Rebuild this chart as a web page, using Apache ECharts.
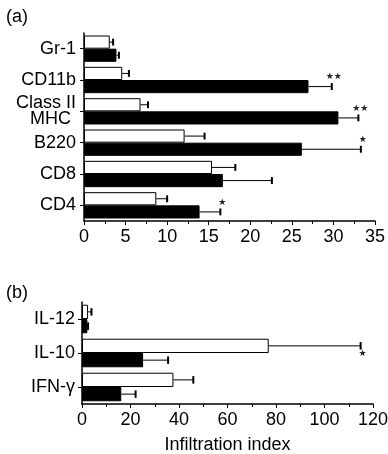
<!DOCTYPE html>
<html><head><meta charset="utf-8">
<script src="https://cdn.jsdelivr.net/npm/echarts@6/dist/echarts.min.js"></script>
<style>html,body{margin:0;padding:0;background:#fff}#c{width:388px;height:454px}</style>
</head><body><div id="c"></div>
<script>
// Panel (a)
const catsA = ['Gr-1', 'CD11b', 'Class II\nMHC\u00a0', 'B220', 'CD8', 'CD4'];
const controlA = [3.1, 4.6, 6.8, 12.1, 15.4, 8.7];
const controlSdA = [0.4, 0.8, 0.9, 2.4, 2.8, 1.3];
const treatedA = [3.9, 27.0, 30.6, 26.2, 16.7, 13.9];
const treatedSdA = [0.3, 2.8, 2.4, 7.1, 5.9, 2.5];
const starsControlA = ['', '', '', '', '', ''];
const starsTreatedA = ['', '★★', '★★', '★', '', '★'];
const xTicksA = { min: 0, max: 35, interval: 5 };

// Panel (b)
const catsB = ['IL-12', 'IL-10', 'IFN-γ'];
const controlB = [2.5, 77.0, 37.7];
const controlSdB = [1.4, 37.9, 8.2];
const treatedB = [2.2, 25.2, 16.2];
const treatedSdB = [0.3, 10.3, 5.9];
const starsControlB = ['', '★', ''];
const starsTreatedB = ['', '', ''];
const xTicksB = { min: 0, max: 120, interval: 20 };

const FONT = 'Liberation Sans';
const BAR_FRAC = 0.42;

function makeErr(vals, sds, stars, gi, side, starBelow) {
  return {
    type: 'custom', xAxisIndex: gi, yAxisIndex: gi, z: 5, silent: true,
    data: vals.map((v, i) => [v, i, sds[i]]),
    renderItem(params, api) {
      const i = params.dataIndex;
      const v = api.value(0), sd = api.value(2);
      const c = api.coord([v, i]);
      const e = api.coord([v + sd, i]);
      const band = api.size([0, 1])[1];
      const y = c[1] + side * band * BAR_FRAC / 2;
      const cap = band * 0.11;
      const ch = [
        { type: 'line', shape: { x1: c[0], y1: y, x2: e[0], y2: y }, style: { stroke: '#000', lineWidth: 1 } },
        { type: 'line', shape: { x1: e[0], y1: y - cap, x2: e[0], y2: y + cap }, style: { stroke: '#000', lineWidth: 2 } }
      ];
      if (stars[i]) {
        ch.push({ type: 'text', x: e[0] + 2, y: y + (starBelow ? 8 : -9.5),
          style: { text: stars[i], fill: '#222', font: '9px "DejaVu Sans"', align: 'center', verticalAlign: 'middle' } });
      }
      return { type: 'group', children: ch };
    }
  };
}

function xAxisCfg(gi, t, extra) {
  return Object.assign({
    gridIndex: gi, type: 'value', min: t.min, max: t.max, interval: t.interval,
    axisLine: { show: true, lineStyle: { color: '#000', width: 1.5 } },
    axisTick: { show: true, length: 4, lineStyle: { color: '#000', width: 1 } },
    minorTick: { show: true, splitNumber: 2, length: 3, lineStyle: { color: '#000', width: 1 } },
    splitLine: { show: false },
    axisLabel: { fontSize: 18, color: '#000', fontFamily: FONT, margin: 7 }
  }, extra || {});
}
function yAxisCfg(gi, cats, margin) {
  return {
    gridIndex: gi, type: 'category', inverse: true, data: cats,
    axisLine: { show: true, lineStyle: { color: '#000', width: 1.5 } },
    axisTick: { show: true, alignWithLabel: true, length: 4, lineStyle: { color: '#000' } },
    axisLabel: { fontSize: 18, color: '#000', fontFamily: FONT, margin: margin, lineHeight: 16 }
  };
}
function bars(vals, gi, white) {
  return {
    type: 'bar', xAxisIndex: gi, yAxisIndex: gi, data: vals,
    barWidth: (BAR_FRAC * 100) + '%', barGap: '0%', silent: true,
    itemStyle: white ? { color: '#fff', borderColor: '#000', borderWidth: 1 } : { color: '#000', borderColor: '#000', borderWidth: 1 }
  };
}

const chart = echarts.init(document.getElementById('c'), null, { renderer: 'canvas' });
chart.setOption({
  animation: false,
  backgroundColor: '#fff',
  grid: [
    { left: 84, right: 13, top: 33, bottom: 233, containLabel: false, outerBoundsMode: 'none' },
    { left: 82, right: 15, top: 302, bottom: 50, containLabel: false, outerBoundsMode: 'none' }
  ],
  xAxis: [
    xAxisCfg(0, xTicksA),
    xAxisCfg(1, xTicksB, { name: 'Infiltration index', nameLocation: 'middle', nameGap: 32,
      nameTextStyle: { fontSize: 18, color: '#000', fontFamily: FONT } })
  ],
  yAxis: [yAxisCfg(0, catsA, 8), yAxisCfg(1, catsB, 7)],
  graphic: [
    { type: 'text', left: 6, top: 8, style: { text: '(a)', font: '18px "Liberation Sans"', fill: '#000' } },
    { type: 'text', left: 6, top: 284, style: { text: '(b)', font: '18px "Liberation Sans"', fill: '#000' } }
  ],
  series: [
    bars(controlA, 0, true), bars(treatedA, 0, false),
    makeErr(controlA, controlSdA, starsControlA, 0, -1, false),
    makeErr(treatedA, treatedSdA, starsTreatedA, 0, 1, false),
    bars(controlB, 1, true), bars(treatedB, 1, false),
    makeErr(controlB, controlSdB, starsControlB, 1, -1, true),
    makeErr(treatedB, treatedSdB, starsTreatedB, 1, 1, true)
  ]
});
</script></body></html>
